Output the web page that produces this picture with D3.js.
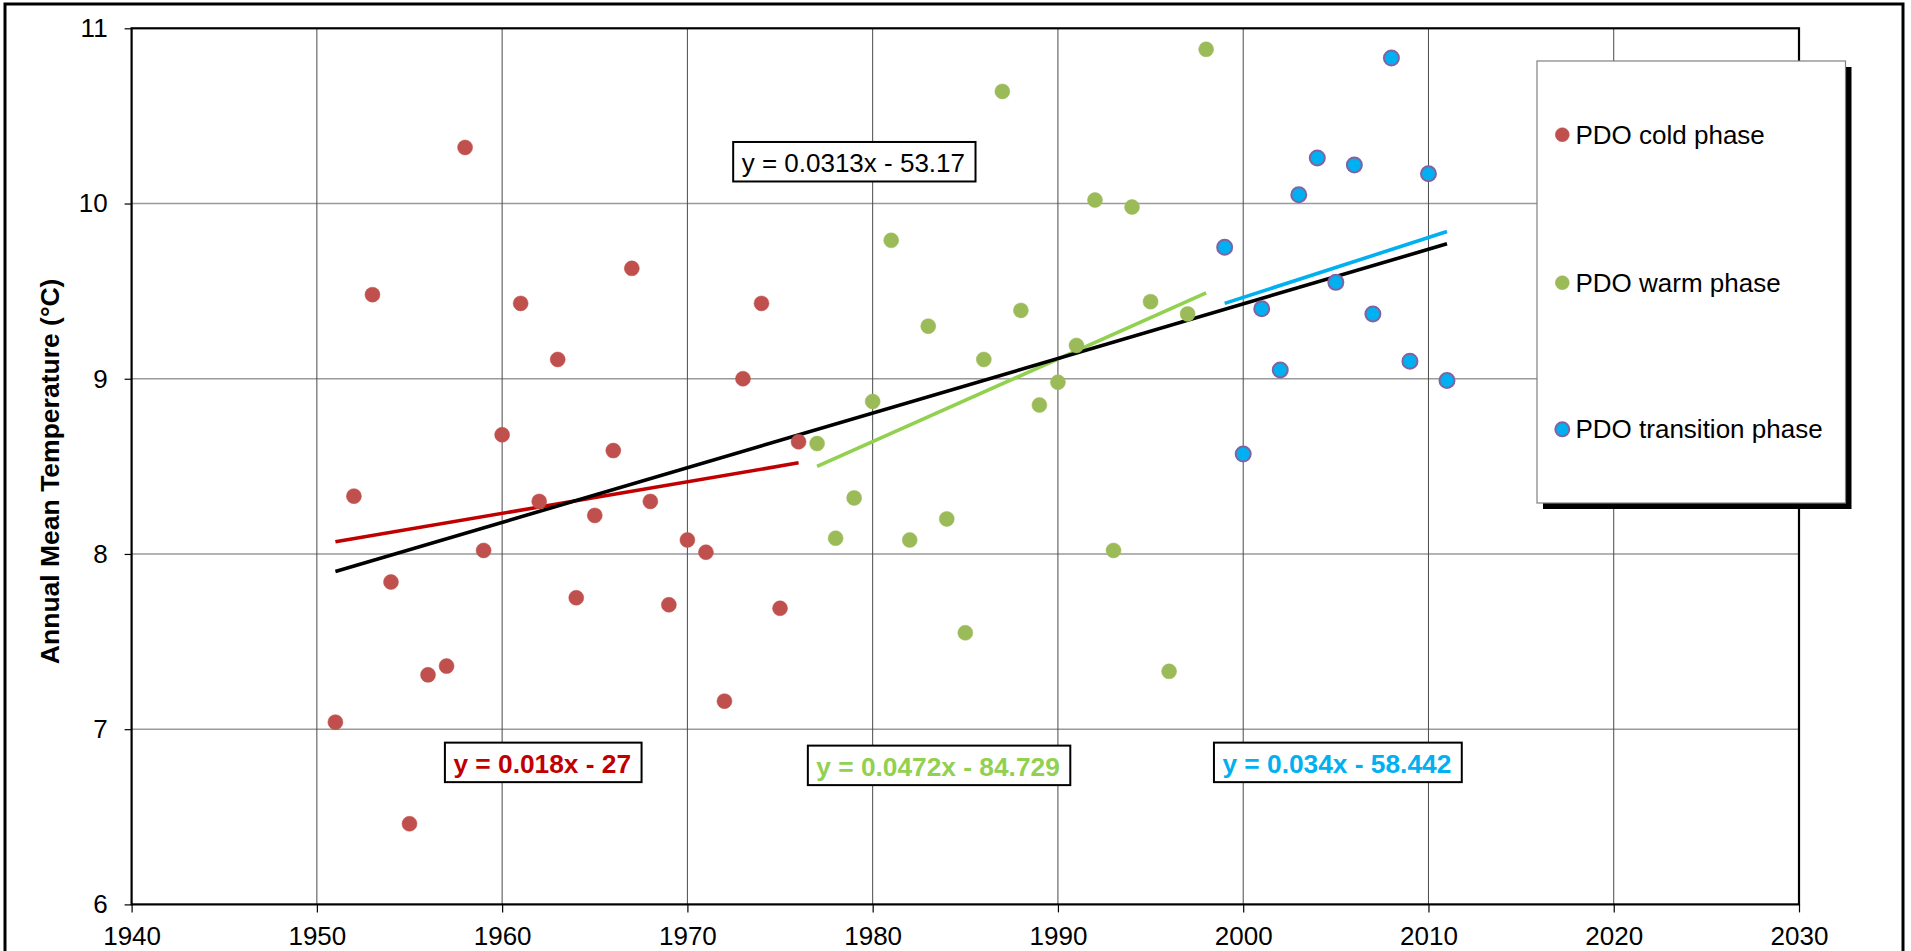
<!DOCTYPE html>
<html>
<head>
<meta charset="utf-8">
<script src="https://cdn.jsdelivr.net/npm/d3@7"></script>
<style>
  body { margin: 0; background: #fff; }
  svg text { font-family: "Liberation Sans", Arial, sans-serif; }
</style>
</head>
<body>
<svg id="chart" width="1911" height="951"></svg>
<script>
// ---------------- data ----------------
const coldYears = [1951,1952,1953,1954,1955,1956,1957,1958,1959,1960,1961,1962,1963,1964,1965,1966,1967,1968,1969,1970,1971,1972,1973,1974,1975,1976];
const coldTemps = [7.04,8.33,9.48,7.84,6.46,7.31,7.36,10.32,8.02,8.68,9.43,8.30,9.11,7.75,8.22,8.59,9.63,8.30,7.71,8.08,8.01,7.16,9.00,9.43,7.69,8.64];

const warmYears = [1977,1978,1979,1980,1981,1982,1983,1984,1985,1986,1987,1988,1989,1990,1991,1992,1993,1994,1995,1996,1997,1998];
const warmTemps = [8.63,8.09,8.32,8.87,9.79,8.08,9.30,8.20,7.55,9.11,10.64,9.39,8.85,8.98,9.19,10.02,8.02,9.98,9.44,7.33,9.37,10.88];

const transYears = [1999,2000,2001,2002,2003,2004,2005,2006,2007,2008,2009,2010,2011];
const transTemps = [9.75,8.57,9.40,9.05,10.05,10.26,9.55,10.22,9.37,10.83,9.10,10.17,8.99];

// trend line end points (year, value)
const trendAllYears   = [1951, 2011];  const trendAllTemps   = [7.90, 9.77];
const trendColdYears  = [1951, 1976];  const trendColdTemps  = [8.07, 8.52];
const trendWarmYears  = [1977, 1998];  const trendWarmTemps  = [8.50, 9.49];
const trendTransYears = [1999, 2011];  const trendTransTemps = [9.43, 9.84];

const equationLabels = ["y = 0.0313x - 53.17", "y = 0.018x - 27", "y = 0.0472x - 84.729", "y = 0.034x - 58.442"];
const seriesNames = ["PDO cold phase", "PDO warm phase", "PDO transition phase"];

const xTicks = [1940,1950,1960,1970,1980,1990,2000,2010,2020,2030];
const yTicks = [6,7,8,9,10,11];
const yTitle = "Annual Mean Temperature (\u00B0C)";

// ---------------- layout / style ----------------
const plot = {left: 131.6, right: 1799, top: 28.3, bottom: 904.4};
const colors = {
  cold: "#C0504D", warm: "#9BBB59", transFill: "#00B0F0", transStroke: "#8064A2",
  lineAll: "#000000", lineCold: "#C00000", lineWarm: "#92D050", lineTrans: "#00B0F0"
};

const svg = d3.select("#chart");
const x = d3.scaleLinear().domain([1940, 2030]).range([plot.left, plot.right]);
const y = d3.scaleLinear().domain([6, 11]).range([plot.bottom, plot.top]);

// outer frame
svg.append("rect").attr("x", 5).attr("y", 4).attr("width", 1898).attr("height", 980)
  .attr("fill", "#fff").attr("stroke", "#000").attr("stroke-width", 3);

// gridlines
const grid = svg.append("g");
grid.selectAll("line.h").data(yTicks.slice(1, -1)).join("line")
  .attr("x1", plot.left).attr("x2", plot.right)
  .attr("y1", d => y(d)).attr("y2", d => y(d))
  .attr("stroke", "#9a9a9a").attr("stroke-width", 1.6);
grid.selectAll("line.v").data(xTicks.slice(1, -1)).join("line")
  .attr("y1", plot.top).attr("y2", plot.bottom)
  .attr("x1", d => x(d)).attr("x2", d => x(d))
  .attr("stroke", "#4a4a4a").attr("stroke-width", 1);

// axes
const xAxis = d3.axisBottom(x).tickValues(xTicks).tickSize(8).tickPadding(14).tickFormat(d3.format("d"));
const yAxis = d3.axisLeft(y).tickValues(yTicks).tickSize(7).tickPadding(17).tickFormat(d3.format("d"));
const gx = svg.append("g").attr("transform", `translate(0,${plot.bottom})`).call(xAxis);
const gy = svg.append("g").attr("transform", `translate(${plot.left},0)`).call(yAxis);
[gx, gy].forEach(g => {
  g.select(".domain").remove();
  g.selectAll(".tick line").attr("stroke", "#000").attr("stroke-width", 1.2);
  g.selectAll(".tick text").attr("fill", "#000").attr("font-size", 26)
    .attr("font-family", '"Liberation Sans", Arial, sans-serif');
});

// plot border
svg.append("rect").attr("x", plot.left).attr("y", plot.top)
  .attr("width", plot.right - plot.left).attr("height", plot.bottom - plot.top)
  .attr("fill", "none").attr("stroke", "#000").attr("stroke-width", 2.2);

// y title
svg.append("text")
  .attr("transform", `translate(59,${(plot.top + plot.bottom) / 2 + 5}) rotate(-90)`)
  .attr("text-anchor", "middle").attr("font-weight", "bold").attr("font-size", 26.5)
  .attr("fill", "#000").text(yTitle);

// trend lines
const line = d3.line().x(d => x(d[0])).y(d => y(d[1]));
const trends = [
  {yrs: trendColdYears, vals: trendColdTemps, color: colors.lineCold},
  {yrs: trendWarmYears, vals: trendWarmTemps, color: colors.lineWarm},
  {yrs: trendTransYears, vals: trendTransTemps, color: colors.lineTrans},
  {yrs: trendAllYears, vals: trendAllTemps, color: colors.lineAll}
];
trends.forEach(t => {
  svg.append("path").datum(d3.zip(t.yrs, t.vals)).attr("d", line)
    .attr("fill", "none").attr("stroke", t.color).attr("stroke-width", 3.6);
});

// points
function drawPoints(yrs, vals, fill, stroke, sw) {
  svg.append("g").selectAll("circle").data(d3.zip(yrs, vals)).join("circle")
    .attr("cx", d => x(d[0])).attr("cy", d => y(d[1])).attr("r", 7.5)
    .attr("fill", fill).attr("stroke", stroke).attr("stroke-width", sw);
}
drawPoints(coldYears, coldTemps, colors.cold, colors.cold, 0.5);
drawPoints(warmYears, warmTemps, colors.warm, colors.warm, 0.5);
drawPoints(transYears, transTemps, colors.transFill, colors.transStroke, 2);

// equation labels (anchored in data units)
const eqAnchors = [
  {text: equationLabels[0], yr: 1972.93, v: 10.18, color: "#000", weight: "normal", size: 26},
  {text: equationLabels[1], yr: 1957.37, v: 6.752, color: colors.lineCold, weight: "bold", size: 26.3},
  {text: equationLabels[2], yr: 1976.96, v: 6.735, color: colors.lineWarm, weight: "bold", size: 26.3},
  {text: equationLabels[3], yr: 1998.88, v: 6.752, color: colors.lineTrans, weight: "bold", size: 26.3}
];
eqAnchors.forEach(a => {
  const g = svg.append("g");
  const r = g.append("rect");
  const t = g.append("text").attr("x", x(a.yr)).attr("y", y(a.v))
    .attr("font-size", a.size).attr("font-weight", a.weight).attr("fill", a.color).text(a.text);
  const bb = t.node().getBBox();
  r.attr("x", bb.x - 8.5).attr("y", y(a.v) - 30).attr("width", bb.width + 19).attr("height", 39.5)
    .attr("fill", "#fff").attr("stroke", "#000").attr("stroke-width", 2);
});

// legend
const leg = {x: 1537, y: 61, w: 308.5, h: 442};
svg.append("rect").attr("x", leg.x + 6).attr("y", leg.y + 6).attr("width", leg.w).attr("height", leg.h).attr("fill", "#000");
svg.append("rect").attr("x", leg.x).attr("y", leg.y).attr("width", leg.w).attr("height", leg.h)
  .attr("fill", "#fff").attr("stroke", "#808080").attr("stroke-width", 1.2);
const legendItems = [
  {name: seriesNames[0], fill: colors.cold, stroke: colors.cold, sw: 0.5},
  {name: seriesNames[1], fill: colors.warm, stroke: colors.warm, sw: 0.5},
  {name: seriesNames[2], fill: colors.transFill, stroke: colors.transStroke, sw: 2}
];
const legRows = [134.7, 282.7, 429.3];
legendItems.forEach((it, i) => {
  svg.append("circle").attr("cx", 1562.3).attr("cy", legRows[i]).attr("r", 7)
    .attr("fill", it.fill).attr("stroke", it.stroke).attr("stroke-width", it.sw);
  svg.append("text").attr("x", 1575.5).attr("y", legRows[i]).attr("dy", "0.35em")
    .attr("font-size", 26).attr("fill", "#000").text(it.name);
});
</script>
</body>
</html>
